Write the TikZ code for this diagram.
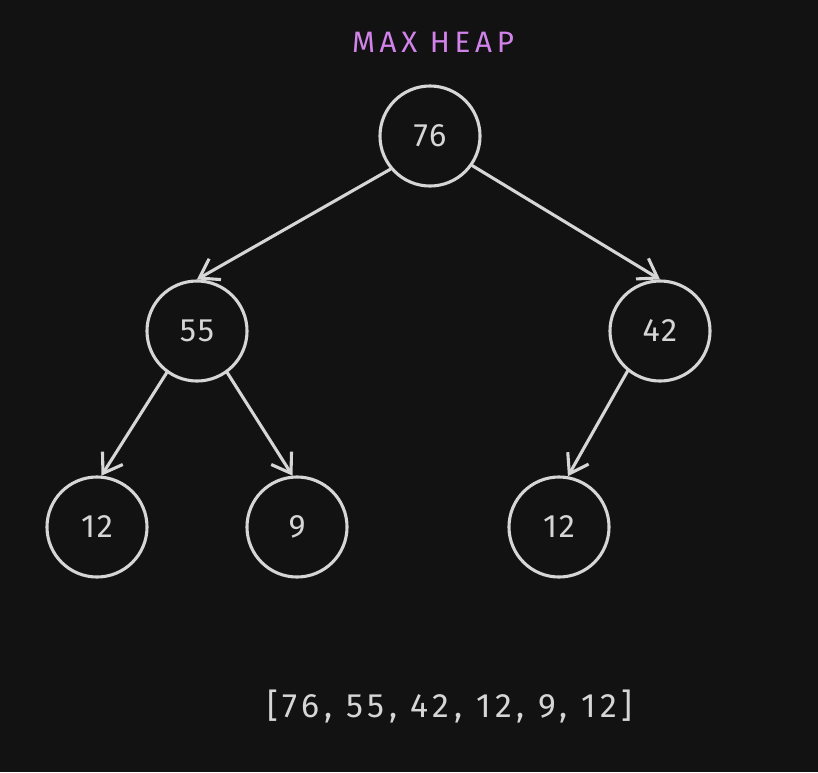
\documentclass[tikz,border=0pt]{standalone}
\usepackage{fontspec}
\setmainfont{Fira Sans}
\usetikzlibrary{arrows.meta}
\definecolor{bgdark}{HTML}{121212}
\definecolor{inkgray}{HTML}{D6D6D6}
\definecolor{heapviolet}{HTML}{D283EA}

\begin{document}
\begin{tikzpicture}[
  x=0.025cm, y=-0.025cm,
  key/.style={draw=inkgray, circle, line width=2.2pt, minimum size=2.5cm,
              inner sep=0pt, text=inkgray,
              font=\fontsize{23}{26}\selectfont\addfontfeatures{LetterSpace=6}},
  title/.style={text=heapviolet,
                font=\fontsize{21}{24}\selectfont\addfontfeatures{LetterSpace=16}},
  arr/.style={text=inkgray,
              font=\fontsize{24}{28}\selectfont\addfontfeatures{LetterSpace=14}},
  link/.style={-{Straight Barb[length=0.45cm, width=0.6cm, line width=2.2pt]},
               line width=2.2pt, draw=inkgray, line cap=round},
]

\fill[bgdark] (0,0) rectangle (818,772);
\useasboundingbox (0,0) rectangle (818,772);

\node[title] (ttl) at (433,42) {MAX HEAP};

\node[key] (n76) at (430,136) {76};
\node[key] (n55) at (197,331) {55};
\node[key] (n42) at (660,331) {42};
\node[key] (n12a) at (97,527) {12};
\node[key] (n9) at (297,527) {9};
\node[key] (n12b) at (559,527) {12};

\node[arr] (list) at (450,707) {[76, 55, 42, 12, 9, 12]};

\draw[link] (n76.220) -- (n55.north);
\draw[link] (n76.-35) -- (n42.north);
\draw[link] (n55.234) -- (n12a.85);
\draw[link] (n55.306) -- (n9.95);
\draw[link] (n42.231) -- (n12b.80);

\end{tikzpicture}
\end{document}
